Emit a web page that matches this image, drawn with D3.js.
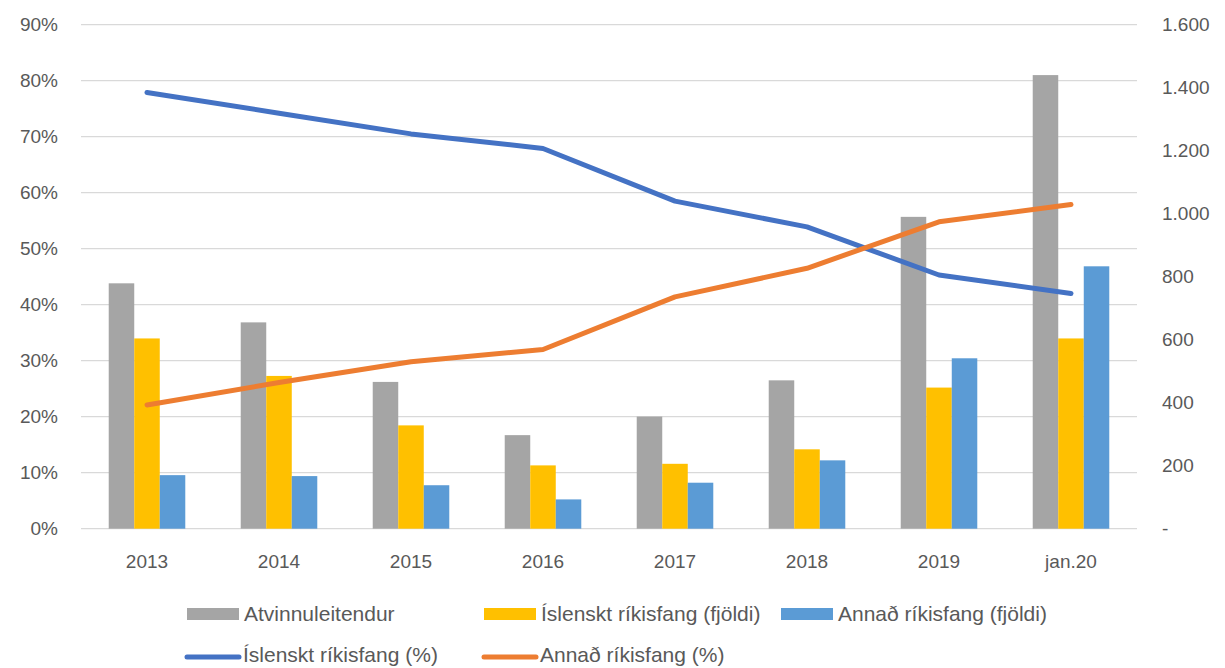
<!DOCTYPE html>
<html>
<head>
<meta charset="utf-8">
<script src="https://cdn.jsdelivr.net/npm/d3@7"></script>
<style>
  body { margin: 0; background: #fff; }
  svg text { font-family: "Liberation Sans", Arial, sans-serif; fill: #595959; }
</style>
</head>
<body>
<svg id="chart" width="1225" height="668"></svg>
<script>
// *******************
// Data
// *******************
const categories = ["2013", "2014", "2015", "2016", "2017", "2018", "2019", "jan.20"];
const atvinnuleitendur = [779, 655, 466, 297, 356, 471, 990, 1440];
const islensktFjoldi = [604, 485, 328, 201, 206, 252, 448, 604];
const annadFjoldi = [170, 167, 138, 93, 146, 217, 541, 833];
const islensktPct = [77.9, 74.2, 70.5, 67.9, 58.5, 53.9, 45.3, 42.0];
const annadPct = [22.1, 26.1, 29.8, 32.0, 41.4, 46.5, 54.8, 57.9];
const pctTicks = [0, 10, 20, 30, 40, 50, 60, 70, 80, 90];
const countTicks = [0, 200, 400, 600, 800, 1000, 1200, 1400, 1600];

const barSeries = [
  { name: "Atvinnuleitendur", values: atvinnuleitendur, color: "#A5A5A5" },
  { name: "Íslenskt ríkisfang (fjöldi)", values: islensktFjoldi, color: "#FFC000" },
  { name: "Annað ríkisfang (fjöldi)", values: annadFjoldi, color: "#5B9BD5" },
];
const lineSeries = [
  { name: "Íslenskt ríkisfang (%)", values: islensktPct, color: "#4472C4" },
  { name: "Annað ríkisfang (%)", values: annadPct, color: "#ED7D31" },
];

// *******************
// Layout
// *******************
const PLOT = { LEFT: 81, RIGHT: 1137, TOP: 24.7, BOTTOM: 528.7 };
const TICK_FONT = 19;
const LEGEND_FONT = 21;
const svg = d3.select("#chart");

const x = d3.scaleBand().domain(categories).range([PLOT.LEFT, PLOT.RIGHT]);
const groupWidth = x.bandwidth() * 0.58;
const xInner = d3
  .scaleBand()
  .domain(barSeries.map((s) => s.name))
  .range([-groupWidth / 2, groupWidth / 2]);

const yPct = d3.scaleLinear().domain([0, 90]).range([PLOT.BOTTOM, PLOT.TOP]);
const yCount = d3.scaleLinear().domain([0, 1600]).range([PLOT.BOTTOM, PLOT.TOP]);

// gridlines
svg
  .append("g")
  .selectAll("line")
  .data(pctTicks)
  .join("line")
  .attr("x1", PLOT.LEFT)
  .attr("x2", PLOT.RIGHT)
  .attr("y1", (d) => yPct(d))
  .attr("y2", (d) => yPct(d))
  .attr("stroke", "#D9D9D9")
  .attr("stroke-width", 1.3);

// left axis
const leftAxis = svg
  .append("g")
  .attr("transform", `translate(${PLOT.LEFT},0)`)
  .call(
    d3.axisLeft(yPct)
      .tickValues(pctTicks)
      .tickSize(0)
      .tickPadding(23)
      .tickFormat((d) => d + "%")
  );
leftAxis.select(".domain").remove();
leftAxis.selectAll("text").attr("font-size", TICK_FONT).attr("fill", "#595959");

// right axis
const rightAxis = svg
  .append("g")
  .attr("transform", `translate(${PLOT.RIGHT},0)`)
  .call(
    d3.axisRight(yCount)
      .tickValues(countTicks)
      .tickSize(0)
      .tickPadding(25)
      .tickFormat((d) => (d === 0 ? "-" : d3.format(",")(d).replace(/,/g, ".")))
  );
rightAxis.select(".domain").remove();
rightAxis.selectAll("text").attr("font-size", TICK_FONT).attr("fill", "#595959");

// bottom axis
const bottomAxis = svg
  .append("g")
  .attr("transform", `translate(0,${PLOT.BOTTOM})`)
  .call(d3.axisBottom(x).tickSize(0).tickPadding(0));
bottomAxis.select(".domain").remove();
bottomAxis
  .selectAll("text")
  .attr("font-size", TICK_FONT)
  .attr("fill", "#595959")
  .attr("dy", null)
  .attr("y", 39);

// bars
barSeries.forEach((s) => {
  svg
    .append("g")
    .selectAll("rect")
    .data(s.values)
    .join("rect")
    .attr("x", (d, i) => x(categories[i]) + x.bandwidth() / 2 + xInner(s.name))
    .attr("width", xInner.bandwidth())
    .attr("y", (d) => yCount(d))
    .attr("height", (d) => yCount(0) - yCount(d))
    .attr("fill", s.color);
});

// lines
const line = d3
  .line()
  .x((d, i) => x(categories[i]) + x.bandwidth() / 2)
  .y((d) => yPct(d));

lineSeries.forEach((s) => {
  svg
    .append("path")
    .datum(s.values)
    .attr("d", line)
    .attr("fill", "none")
    .attr("stroke", s.color)
    .attr("stroke-width", 5)
    .attr("stroke-linecap", "round")
    .attr("stroke-linejoin", "round");
});

// legend
const legendBars = [
  { s: barSeries[0], x: 187, y: 621 },
  { s: barSeries[1], x: 484, y: 621 },
  { s: barSeries[2], x: 781, y: 621 },
];
const legendLines = [
  { s: lineSeries[0], x: 185, y: 662 },
  { s: lineSeries[1], x: 482, y: 662 },
];
const legend = svg.append("g");

legendBars.forEach((d) => {
  legend
    .append("rect")
    .attr("x", d.x)
    .attr("y", d.y - 13)
    .attr("width", 52)
    .attr("height", 12)
    .attr("fill", d.s.color);
  legend
    .append("text")
    .attr("x", d.x + 57)
    .attr("y", d.y)
    .attr("font-size", LEGEND_FONT)
    .text(d.s.name);
});

legendLines.forEach((d) => {
  legend
    .append("line")
    .attr("x1", d.x + 2)
    .attr("x2", d.x + 54)
    .attr("y1", d.y - 5)
    .attr("y2", d.y - 5)
    .attr("stroke", d.s.color)
    .attr("stroke-width", 5)
    .attr("stroke-linecap", "round");
  legend
    .append("text")
    .attr("x", d.x + 58)
    .attr("y", d.y)
    .attr("font-size", LEGEND_FONT)
    .text(d.s.name);
});
</script>
</body>
</html>
